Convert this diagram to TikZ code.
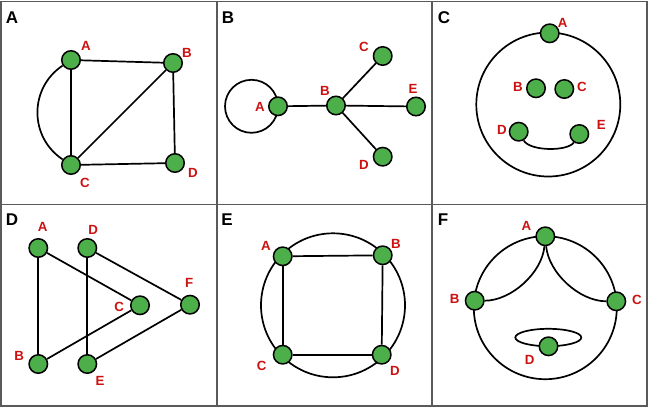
\documentclass[tikz,border=0pt]{standalone}
\usepackage{fontspec}
\setmainfont{Liberation Sans}
\definecolor{gfill}{RGB}{77,175,74}
\definecolor{lred}{RGB}{204,17,17}
\definecolor{fgray}{RGB}{90,90,90}
\begin{document}
\begin{tikzpicture}[x=1pt,y=-1pt,
  vtx/.style={circle,draw=black,fill=gfill,line width=1.5pt,minimum size=18.5pt,inner sep=0pt},
  lbl/.style={text=lred,font=\fontsize{13.3}{15}\selectfont\bfseries,inner sep=0pt},
  ttl/.style={text=black,font=\fontsize{17}{19}\selectfont\bfseries,inner sep=0pt},
  con/.style={line width=1.7pt,draw=black},
  panelframe/.style={draw=fgray,line width=1.3pt}]
\useasboundingbox (0,0) rectangle (650,410);
% frame
\draw[panelframe] (1,1.5) rectangle (647,406);
\draw[panelframe] (217,1.5) -- (217,406);
\draw[panelframe] (432,1.5) -- (432,406);
\draw[panelframe] (1,204.3) -- (647,204.3);
% panel titles
\node[ttl] (tA) at (12,18) {A};
\node[ttl] (tB) at (228,18) {B};
\node[ttl] (tC) at (444,18) {C};
\node[ttl] (tD) at (12,220) {D};
\node[ttl] (tE) at (227,220) {E};
\node[ttl] (tF) at (443,220) {F};

% ---------- Panel A ----------
\node[vtx] (aA) at (71,60) {};
\node[vtx] (aB) at (173,63) {};
\node[vtx] (aC) at (71,165) {};
\node[vtx] (aD) at (175,163) {};
\draw[con] (aA) -- (aB);
\draw[con] (aA) -- (aC);
\draw[con] (aB) -- (aC);
\draw[con] (aB) -- (aD);
\draw[con] (aC) -- (aD);
\draw[con] (aA) .. controls (29,88) and (29,137) .. (aC);
\node[lbl] (laA) at (86,46) {A};
\node[lbl] (laB) at (187,53) {B};
\node[lbl] (laC) at (85,183) {C};
\node[lbl] (laD) at (193,173) {D};

% ---------- Panel B ----------
\coordinate (bloop) at (251.5,106.3);
\draw[con] (bloop) circle[radius=26.5pt];
\node[vtx] (bA) at (278,106.3) {};
\node[vtx] (bB) at (336,105.5) {};
\node[vtx] (bC) at (382.7,56) {};
\node[vtx] (bE) at (416,106.5) {};
\node[vtx] (bD) at (382.7,156.7) {};
\draw[con] (bA) -- (bB);
\draw[con] (bB) -- (bC);
\draw[con] (bB) -- (bE);
\draw[con] (bB) -- (bD);
\node[lbl] (lbA) at (260,107) {A};
\node[lbl] (lbB) at (325,91) {B};
\node[lbl] (lbC) at (364,47) {C};
\node[lbl] (lbE) at (413,89) {E};
\node[lbl] (lbD) at (364,165) {D};

% ---------- Panel C ----------
\coordinate (cring) at (548.3,104.5);
\draw[con] (cring) circle[radius=72pt];
\node[vtx] (cA) at (549.7,33.3) {};
\node[vtx] (cB) at (536,88.3) {};
\node[vtx] (cC) at (564.3,89) {};
\node[vtx] (cD) at (518.7,131.7) {};
\node[vtx] (cE) at (579.3,134) {};
\draw[con] (cD) .. controls (530,151.5) and (568,151.5) .. (cE);
\node[lbl] (lcA) at (562.7,22.7) {A};
\node[lbl] (lcB) at (518,86.7) {B};
\node[lbl] (lcC) at (582,87.3) {C};
\node[lbl] (lcD) at (502,130) {D};
\node[lbl] (lcE) at (601.3,125) {E};

% ---------- Panel D ----------
\node[vtx] (dA) at (38.3,248) {};
\node[vtx] (dD) at (87.3,248) {};
\node[vtx] (dC) at (140,305.3) {};
\node[vtx] (dF) at (190,304.7) {};
\node[vtx] (dB) at (38.3,364) {};
\node[vtx] (dE) at (87.3,364) {};
\draw[con] (dA) -- (dB);
\draw[con] (dA) -- (dC);
\draw[con] (dB) -- (dC);
\draw[con] (dD) -- (dE);
\draw[con] (dD) -- (dF);
\draw[con] (dE) -- (dF);
\node[lbl] (ldA) at (42.7,227) {A};
\node[lbl] (ldD) at (93.3,229.7) {D};
\node[lbl] (ldF) at (189.3,283) {F};
\node[lbl] (ldC) at (119.3,307) {C};
\node[lbl] (ldB) at (19.3,356.3) {B};
\node[lbl] (ldE) at (100,381.3) {E};

% ---------- Panel E ----------
\coordinate (ering) at (333,305.3);
\draw[con] (ering) circle[radius=72pt];
\node[vtx] (eA) at (282.7,256.3) {};
\node[vtx] (eB) at (382.7,255.3) {};
\node[vtx] (eC) at (282.7,354.7) {};
\node[vtx] (eD) at (381.7,354.7) {};
\draw[con] (eA) -- (eB);
\draw[con] (eB) -- (eD);
\draw[con] (eD) -- (eC);
\draw[con] (eC) -- (eA);
\node[lbl] (leA) at (266,245.7) {A};
\node[lbl] (leB) at (396,243.7) {B};
\node[lbl] (leC) at (261.7,366.3) {C};
\node[lbl] (leD) at (395,371.3) {D};

% ---------- Panel F ----------
\coordinate (fring) at (545.3,307.7);
\draw[con] (fring) circle[radius=71.5pt];
\coordinate (fell) at (548.3,337.5);
\draw[con] (fell) ellipse[x radius=33pt,y radius=8.7pt];
\node[vtx] (fA) at (545.3,236.3) {};
\node[vtx] (fB) at (474.7,300.7) {};
\node[vtx] (fC) at (616.3,301.3) {};
\node[vtx] (fD) at (548.5,346.3) {};
\draw[con] (fA) .. controls (542.1,272.8) and (511.3,300.7) .. (fB);
\draw[con] (fA) .. controls (548.5,272.8) and (579.3,301.3) .. (fC);
\node[lbl] (lfA) at (526.3,226.3) {A};
\node[lbl] (lfB) at (454.7,299) {B};
\node[lbl] (lfC) at (637,299.7) {C};
\node[lbl] (lfD) at (529.7,359.7) {D};
\end{tikzpicture}
\end{document}
